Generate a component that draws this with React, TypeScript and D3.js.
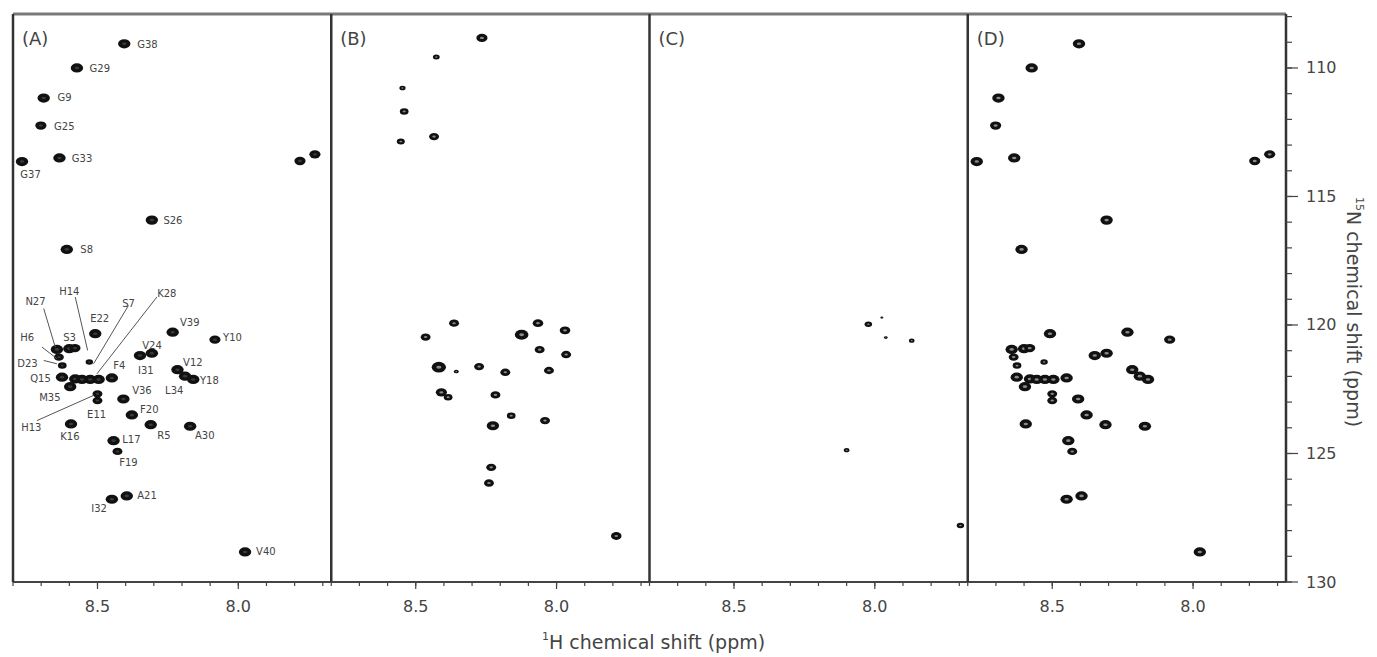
import React from "react";
import * as d3 from "d3";

const panelLabels = ["(A)", "(B)", "(C)", "(D)"];
const hMajorTicks = [8.5, 8.0];
const hMinorTicks = [8.8, 8.7, 8.6, 8.5, 8.4, 8.3, 8.2, 8.1, 8.0, 7.9, 7.8, 7.7];
const nMajorTicks = [110, 115, 120, 125, 130];
const nMinorTicks = [108, 109, 110, 111, 112, 113, 114, 115, 116, 117, 118, 119, 120, 121, 122, 123, 124, 125, 126, 127, 128, 129, 130];

// [1H ppm, 15N ppm, relative intensity]
const peaksA: [number, number, number][] = [
  [8.405, 109.06, 1], [8.573, 110.0, 1], [8.691, 111.17, 1], [8.701, 112.24, 0.9],
  [8.635, 113.5, 1], [8.768, 113.64, 1], [7.781, 113.62, 0.9], [7.728, 113.36, 0.9],
  [8.307, 115.92, 1], [8.609, 117.06, 1], [8.508, 120.34, 1], [8.233, 120.28, 1],
  [8.083, 120.57, 0.9], [8.307, 121.1, 1], [8.349, 121.19, 1], [8.644, 120.95, 1],
  [8.637, 121.25, 0.8], [8.6, 120.92, 1], [8.58, 120.9, 0.9], [8.625, 121.58, 0.7],
  [8.529, 121.44, 0.6], [8.626, 122.03, 1], [8.597, 122.4, 1], [8.579, 122.1, 1],
  [8.555, 122.12, 1], [8.526, 122.12, 1], [8.496, 122.12, 1], [8.449, 122.06, 1],
  [8.5, 122.68, 0.8], [8.5, 122.94, 0.8], [8.408, 122.88, 1], [8.378, 123.5, 1],
  [8.594, 123.85, 1], [8.311, 123.88, 1], [8.171, 123.94, 1], [8.216, 121.74, 1],
  [8.189, 121.99, 1], [8.16, 122.12, 1], [8.443, 124.5, 1], [8.429, 124.92, 0.8],
  [8.396, 126.65, 1], [8.449, 126.78, 1], [7.976, 128.83, 1],
];

const peaksB: [number, number, number][] = [
  [8.265, 108.83, 0.9], [8.427, 109.57, 0.55], [8.547, 110.78, 0.5], [8.541, 111.69, 0.7],
  [8.553, 112.86, 0.65], [8.435, 112.67, 0.8], [8.364, 119.93, 0.8], [8.465, 120.47, 0.8],
  [8.066, 119.93, 0.85], [8.124, 120.38, 1.1], [7.97, 120.21, 0.85], [8.06, 120.96, 0.8],
  [7.966, 121.15, 0.8], [8.418, 121.64, 1.15], [8.356, 121.81, 0.4], [8.275, 121.62, 0.8],
  [8.182, 121.84, 0.8], [8.027, 121.77, 0.8], [8.409, 122.62, 0.9], [8.385, 122.81, 0.7],
  [8.217, 122.72, 0.8], [8.161, 123.53, 0.7], [8.226, 123.92, 1.0], [8.041, 123.72, 0.8],
  [8.232, 125.54, 0.8], [8.24, 126.15, 0.8], [7.788, 128.21, 0.85],
];

const peaksC: [number, number, number][] = [
  [8.023, 119.97, 0.6], [7.975, 119.71, 0.25], [7.961, 120.49, 0.3],
  [7.869, 120.61, 0.45], [8.1, 124.87, 0.45], [7.696, 127.8, 0.6],
];

const peaksD = peaksA;

// residue labels for panel A: [name, 1H, 15N] of the label's left edge
const labelsA: [string, number, number][] = [
  ["G38", 8.359, 109.08], ["G29", 8.528, 110.03], ["G9", 8.642, 111.16], ["G25", 8.654, 112.29],
  ["G33", 8.591, 113.54], ["G37", 8.774, 114.16], ["S26", 8.266, 115.95], ["S8", 8.561, 117.06],
  ["N27", 8.756, 119.07], ["H14", 8.636, 118.68], ["S7", 8.412, 119.16], ["K28", 8.288, 118.77],
  ["E22", 8.526, 119.74], ["V39", 8.207, 119.89], ["Y10", 8.054, 120.5], ["H6", 8.774, 120.47],
  ["S3", 8.622, 120.47], ["V24", 8.341, 120.8], ["D23", 8.785, 121.49], ["I31", 8.356, 121.77],
  ["V12", 8.196, 121.45], ["F4", 8.444, 121.58], ["Q15", 8.739, 122.1], ["Y18", 8.136, 122.16],
  ["L34", 8.26, 122.55], ["V36", 8.377, 122.55], ["M35", 8.707, 122.81], ["E11", 8.537, 123.49],
  ["F20", 8.349, 123.29], ["H13", 8.771, 123.98], ["K16", 8.632, 124.35], ["R5", 8.288, 124.31],
  ["A30", 8.154, 124.31], ["L17", 8.412, 124.44], ["F19", 8.423, 125.35], ["A21", 8.359, 126.65],
  ["I32", 8.522, 127.13], ["V40", 7.937, 128.83],
];

// leader lines [1H, 15N, 1H, 15N]
const leadersA: [number, number, number, number][] = [
  [8.691, 119.36, 8.65, 120.86],
  [8.579, 118.91, 8.535, 120.99],
  [8.697, 120.86, 8.644, 121.31],
  [8.691, 121.38, 8.644, 121.51],
  [8.715, 123.72, 8.514, 122.74],
  [8.39, 119.24, 8.514, 121.51],
  [8.289, 118.91, 8.502, 121.9],
];

const panelPeaks = [peaksA, peaksB, peaksC, peaksD];

const W = 1377;
const H = 657;
const left = 13;
const right = 1286;
const top = 14;
const bottom = 582;
const panelW = (right - left) / 4;
const font = "DejaVu Sans, sans-serif";

const y = d3.scaleLinear().domain([107.9, 130]).range([top, bottom]);

const App = () => {
  const xs = panelLabels.map((_, i) =>
    d3.scaleLinear().domain([8.8, 7.67]).range([left + i * panelW, left + (i + 1) * panelW])
  );

  return (
    <svg width={W} height={H} style={{ position: "absolute", left: 0, top: 0, background: "#fff" }}>
      <defs>
        {xs.map((x, i) => (
          <clipPath id={`clip${i}`} key={i}>
            <rect x={x.range()[0]} y={top} width={panelW} height={bottom - top} />
          </clipPath>
        ))}
      </defs>

      {xs.map((x, i) => (
        <g key={i}>
          <g clipPath={`url(#clip${i})`}>
            {panelPeaks[i].map(([h, n, s], k) => (
              <g key={k}>
                <ellipse cx={x(h)} cy={y(n)} rx={6.2 * s} ry={4.6 * s} fill="#111" />
                <ellipse
                  cx={x(h)}
                  cy={y(n)}
                  rx={2.2 * s}
                  ry={1.3 * s}
                  fill={i === 0 ? "#3a3a3a" : "#8a8a8a"}
                />
              </g>
            ))}
          </g>
          <text x={x.range()[0] + 9} y={45} fontSize={18} fontFamily={font} fill="#444">
            {panelLabels[i]}
          </text>
          {hMinorTicks.map((t) => (
            <line key={t} x1={x(t)} x2={x(t)} y1={bottom} y2={bottom + 4} stroke="#444" strokeWidth={1.2} />
          ))}
          {hMajorTicks.map((t) => (
            <g key={t}>
              <line x1={x(t)} x2={x(t)} y1={bottom} y2={bottom + 7} stroke="#444" strokeWidth={1.2} />
              <text x={x(t)} y={612} textAnchor="middle" fontSize={16} fontFamily={font} fill="#444">
                {d3.format(".1f")(t)}
              </text>
            </g>
          ))}
        </g>
      ))}

      {/* residue assignments */}
      {leadersA.map(([h1, n1, h2, n2], k) => (
        <line key={k} x1={xs[0](h1)} y1={y(n1)} x2={xs[0](h2)} y2={y(n2)} stroke="#555" strokeWidth={1} />
      ))}
      {labelsA.map(([name, h, n]) => (
        <text key={name} x={xs[0](h)} y={y(n)} dominantBaseline="central" fontSize={10} fontFamily={font} fill="#444">
          {name}
        </text>
      ))}

      {/* frame */}
      <line x1={left} x2={right} y1={top} y2={top} stroke="#7a7a7a" strokeWidth={3} />
      <line x1={left} x2={right} y1={bottom} y2={bottom} stroke="#444" strokeWidth={2} />
      {[0, 1, 2, 3, 4].map((i) => (
        <line key={i} x1={left + i * panelW} x2={left + i * panelW} y1={top} y2={bottom} stroke="#333" strokeWidth={2.5} />
      ))}

      {/* right 15N axis */}
      {nMinorTicks.map((t) => (
        <line key={t} x1={right} x2={right + 6} y1={y(t)} y2={y(t)} stroke="#444" strokeWidth={1.2} />
      ))}
      {nMajorTicks.map((t) => (
        <g key={t}>
          <line x1={right} x2={right + 12} y1={y(t)} y2={y(t)} stroke="#444" strokeWidth={1.2} />
          <text x={1306} y={y(t)} dominantBaseline="central" fontSize={16} fontFamily={font} fill="#444">
            {t}
          </text>
        </g>
      ))}

      <text x={(left + right) / 2 + 4} y={649} textAnchor="middle" fontSize={19} fontFamily={font} fill="#444">
        <tspan fontSize={11} dy={-9}>1</tspan>
        <tspan dy={9}>H chemical shift (ppm)</tspan>
      </text>
      <text
        transform={`translate(1347,${(top + bottom) / 2 + 14}) rotate(90)`}
        textAnchor="middle"
        fontSize={19}
        fontFamily={font}
        fill="#444"
      >
        <tspan fontSize={11} dy={-9}>15</tspan>
        <tspan dy={9}>N chemical shift (ppm)</tspan>
      </text>
    </svg>
  );
};

export default App;
